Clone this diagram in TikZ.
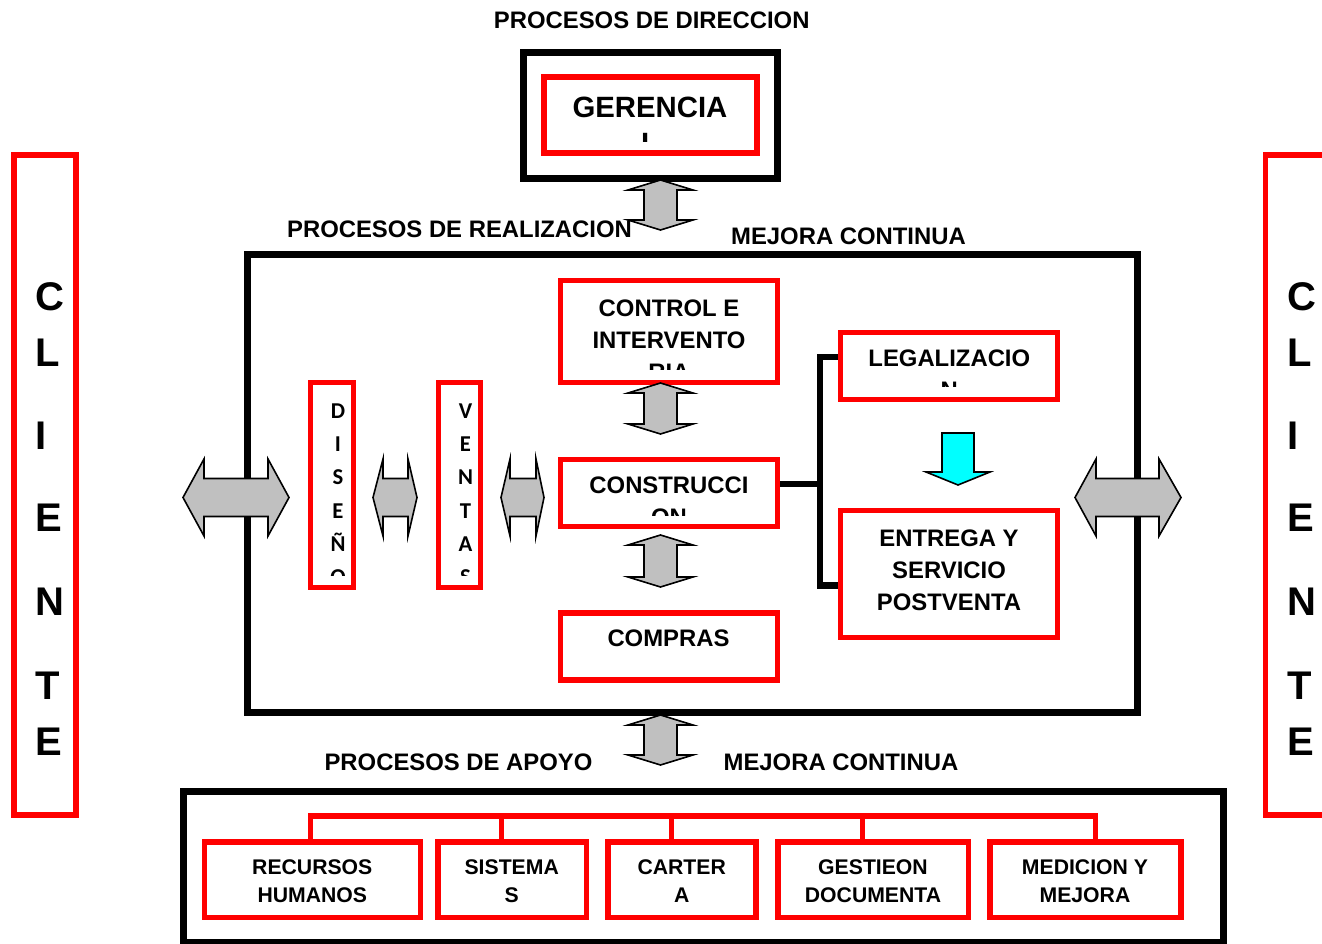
\documentclass[tikz,border=0pt]{standalone}
\usepackage{fontspec}
\setmainfont{Liberation Sans}
\newfontfamily\mycarlito{Carlito}
\definecolor{agray}{HTML}{C0C0C0}
\definecolor{acyan}{HTML}{00FFFF}
\newcommand\myfA{\fontsize{17.9pt}{23.8pt}\selectfont\bfseries}
\newcommand\myfG{\fontsize{22pt}{27pt}\selectfont\bfseries}
\newcommand\myfB{\fontsize{15.9pt}{21pt}\selectfont\bfseries}
\newcommand\myfD{\mycarlito\fontsize{17pt}{25pt}\selectfont\bfseries}
\newcommand\myfC{\fontsize{30pt}{36pt}\selectfont\bfseries}
\newcommand\pxbox[6]{\node[#2, minimum width={(#5-#3)*0.75pt}, minimum height={(#6-#4)*0.75pt}] (#1) at ({(#3+#5)/2},{(#4+#6)/2}) {};}
\newcommand\varrowat[3]{\draw[barrow] (#1,#2) -- (#1+32.5,#2+10) -- (#1+16.5,#2+10) -- (#1+16.5,#3-10) -- (#1+32.5,#3-10) -- (#1,#3) -- (#1-32.5,#3-10) -- (#1-16.5,#3-10) -- (#1-16.5,#2+10) -- (#1-32.5,#2+10) -- cycle;}
\newcommand\harrowat[5]{\draw[barrow] (#1,#5) -- (#2,#5-38.5) -- (#2,#5-19) -- (#3,#5-19) -- (#3,#5-38.5) -- (#4,#5) -- (#3,#5+38.5) -- (#3,#5+19) -- (#2,#5+19) -- (#2,#5+38.5) -- cycle;}
\begin{document}
\begin{tikzpicture}[x=0.75pt,y=-0.75pt,
  blkbox/.style={draw=black, line width=5.25pt, inner sep=0pt, outer sep=0pt},
  redbox/.style={draw=red, line width=4.2pt, inner sep=0pt, outer sep=0pt},
  blkline/.style={draw=black, line width=5pt, line join=miter},
  redline/.style={draw=red, line width=4.2pt, line join=miter},
  barrow/.style={draw=black, line width=1.2pt, fill=agray, line join=miter},
  carrow/.style={draw=black, line width=1.2pt, fill=acyan, line join=miter},
  lab/.style={inner sep=0pt, outer sep=0pt, font=\myfA, align=center},
  labg/.style={inner sep=0pt, outer sep=0pt, font=\myfG, align=center},
  labb/.style={inner sep=0pt, outer sep=0pt, font=\myfB, align=center},
  labd/.style={inner sep=0pt, outer sep=0pt, font=\myfD, align=center},
  labc/.style={inner sep=0pt, outer sep=0pt, font=\myfC}]
\useasboundingbox (0,0) rectangle (1322,944);
\clip (0,0) rectangle (1322,944);
% black frames
\pxbox{gerOut}{blkbox}{523.3}{52.2}{777.5}{178.8}
\pxbox{main}{blkbox}{247}{255}{1137}{713}
\pxbox{apo}{blkbox}{183}{791}{1223}{942.5}
% red boxes
\pxbox{ger}{redbox}{543.8}{77.3}{756.7}{153.3}
\pxbox{cliL}{redbox}{14}{155}{76}{815}
\pxbox{cliR}{redbox}{1265.5}{155}{1330}{815}
\pxbox{ctl}{redbox}{560.5}{280.5}{777.5}{382.5}
\pxbox{con}{redbox}{560.5}{459.5}{777.5}{526.5}
\pxbox{cmp}{redbox}{560.5}{612.8}{777.5}{680.3}
\pxbox{leg}{redbox}{840.5}{332.5}{1057.5}{399.5}
\pxbox{ent}{redbox}{840.5}{510.5}{1057.5}{637.5}
\pxbox{dis}{redbox}{310.5}{382.5}{353.5}{587.5}
\pxbox{ven}{redbox}{438.5}{382.5}{480.5}{587.5}
\pxbox{rh}{redbox}{204.5}{841.7}{420.5}{917.3}
\pxbox{sis}{redbox}{437.8}{841.7}{586.3}{917.3}
\pxbox{car}{redbox}{607.8}{841.7}{755.8}{917.3}
\pxbox{ges}{redbox}{777.8}{841.7}{968.3}{917.3}
\pxbox{med}{redbox}{990}{841.7}{1180.8}{917.3}
% black connectors
\draw[blkline, shorten <=2.1pt] (con.east |- 0,484) -- (820,484);
\draw[blkline, shorten <=2.1pt, shorten >=2.1pt] (leg.west |- 0,357) -- (820,357) -- (820,585.5) -- (ent.west |- 0,585.5);
% red tree
\draw[redline, shorten <=2.1pt, shorten >=2.1pt] (310.5,0 |- rh.north) -- (310.5,816) -- (1095.5,816) -- (1095.5,0 |- med.north);
\foreach \xx/\bb in {501.3/sis, 671.3/car, 862.5/ges} \draw[redline, shorten >=2.1pt] (\xx,816) -- (\xx,0 |- \bb.north);
% block arrows
\varrowat{660.5}{180}{230}
\varrowat{660.5}{383}{434}
\varrowat{660.5}{535}{587}
\varrowat{660.5}{715}{765}
\harrowat{183}{204}{268}{289}{497.5}
\harrowat{373}{383}{408}{417}{497.5}
\harrowat{501}{510}{536}{544}{497.5}
\harrowat{1075}{1096}{1159}{1181}{497.5}
\draw[carrow] (942,433) -- (974,433) -- (974,472) -- (990,472) -- (958,485) -- (926,472) -- (942,472) -- cycle;
% labels
\node[lab, anchor=base] (tDir) at (651.7,28.3) {PROCESOS DE DIRECCION};
\node[lab, anchor=base] (tReal) at (459.5,237.2) {PROCESOS DE REALIZACION};
\node[lab, anchor=base] (tMej1) at (848.5,244.5) {MEJORA CONTINUA};
\node[lab, anchor=base] (tApo) at (458.5,770.8) {PROCESOS DE APOYO};
\node[lab, anchor=base] (tMej2) at (841,770.8) {MEJORA CONTINUA};
% box texts (clipped like the original text frames)
\begin{scope}\clip (547,80) rectangle (754,142);
\node[labg, anchor=north] (tGer) at (650,96.7) {GERENCIA\\L};
\end{scope}
\begin{scope}\clip (563,283) rectangle (775,370);
\node[lab, anchor=north] (tCtl) at (669,300) {CONTROL E\\INTERVENTO\\RIA};
\end{scope}
\begin{scope}\clip (563,462) rectangle (775,516);
\node[lab, anchor=north] (tCon) at (669,476.7) {CONSTRUCCI\\ON};
\end{scope}
\node[lab, anchor=base] (tCmp) at (668.5,646.7) {COMPRAS};
\begin{scope}\clip (843,335) rectangle (1055,387);
\node[lab, anchor=north] (tLeg) at (949.3,350) {LEGALIZACIO\\N};
\end{scope}
\node[lab, anchor=north] (tEnt) at (949,530) {ENTREGA Y\\SERVICIO\\POSTVENTA};
\begin{scope}\clip (313,385) rectangle (351,576);
\node[labd, anchor=north] (tDis) at (338,403.5) {D\\I\\S\\E\\Ñ\\O};
\end{scope}
\begin{scope}\clip (441,385) rectangle (478,576);
\node[labd, anchor=north] (tVen) at (465.5,403.5) {V\\E\\N\\T\\A\\S};
\end{scope}
\node[labb, anchor=north] (tRh) at (312.3,859.3) {RECURSOS\\HUMANOS};
\node[labb, anchor=north] (tSis) at (511.7,859.3) {SISTEMA\\S};
\node[labb, anchor=north] (tCar) at (681.7,859.3) {CARTER\\A};
\node[labb, anchor=north] (tGes) at (873,859.3) {GESTIEON\\DOCUMENTA};
\node[labb, anchor=north] (tMed) at (1085,859.3) {MEDICION Y\\MEJORA};
% CLIENTE columns
\foreach \ch/\yb [count=\i] in {C/311,L/366.7,I/450,E/531.7,N/615.3,T/699.3,E/755.3} {
  \node[labc, anchor=base west] (cl\i) at (35.5,\yb) {\ch};
  \node[labc, anchor=base west] (cr\i) at (1287,\yb) {\ch};
}
\end{tikzpicture}
\end{document}
